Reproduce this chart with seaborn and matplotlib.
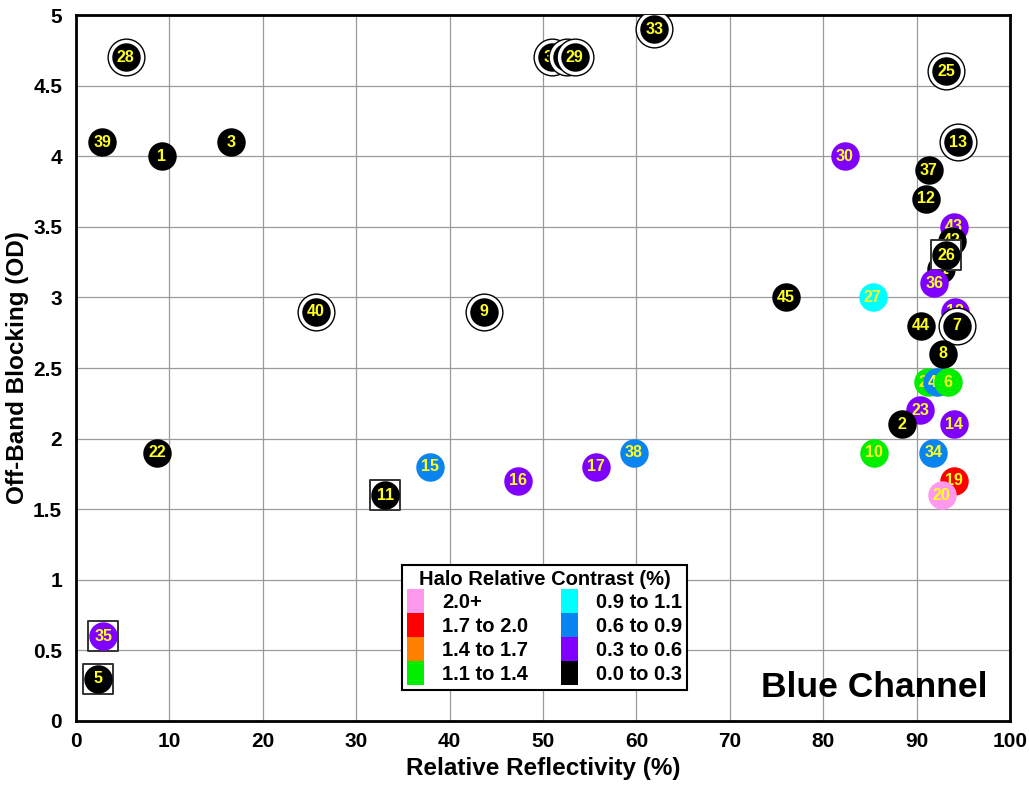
import matplotlib
matplotlib.use("Agg")
import matplotlib.pyplot as plt
from matplotlib.patches import Patch
from matplotlib.ticker import MultipleLocator
import seaborn as sns
import pandas as pd

# ---- data ----
categories = ["2.0+", "1.7 to 2.0", "1.4 to 1.7", "1.1 to 1.4",
              "0.9 to 1.1", "0.6 to 0.9", "0.3 to 0.6", "0.0 to 0.3"]
cat_colors = ["#FF99EE", "#FF0000", "#FF8000", "#00EE00",
              "#00FFFF", "#0A84F0", "#8000FF", "#000000"]

ids = [28, 39, 1, 3, 32, 31, 29, 33, 25, 13, 30, 37, 12, 43, 42, 21, 26, 36,
       27, 45, 18, 7, 44, 8, 24, 41, 6, 23, 2, 14, 10, 34, 19, 20, 38, 17, 16,
       15, 11, 40, 9, 22, 35, 5]
reflectivity = [5.3, 2.8, 9.2, 16.6, 51.0, 52.6, 53.4, 61.9, 93.2, 94.4, 82.3,
                91.3, 91.0, 94.0, 93.8, 92.6, 93.2, 91.9, 85.3, 76.0, 94.1,
                94.3, 90.5, 92.8, 91.2, 92.2, 93.4, 90.4, 88.4, 94.0, 85.4,
                91.8, 94.0, 92.7, 59.7, 55.7, 47.3, 37.9, 33.1, 25.7, 43.7,
                8.7, 2.9, 2.4]
blocking = [4.7, 4.1, 4.0, 4.1, 4.7, 4.7, 4.7, 4.9, 4.6, 4.1, 4.0, 3.9, 3.7,
            3.5, 3.4, 3.2, 3.3, 3.1, 3.0, 3.0, 2.9, 2.8, 2.8, 2.6, 2.4, 2.4,
            2.4, 2.2, 2.1, 2.1, 1.9, 1.9, 1.7, 1.6, 1.9, 1.8, 1.7, 1.8, 1.6,
            2.9, 2.9, 1.9, 0.6, 0.3]
contrast_cat = ["0.0 to 0.3", "0.0 to 0.3", "0.0 to 0.3", "0.0 to 0.3",
                "0.0 to 0.3", "0.0 to 0.3", "0.0 to 0.3", "0.0 to 0.3",
                "0.0 to 0.3", "0.0 to 0.3", "0.3 to 0.6", "0.0 to 0.3",
                "0.0 to 0.3", "0.3 to 0.6", "0.0 to 0.3", "0.0 to 0.3",
                "0.0 to 0.3", "0.3 to 0.6", "0.9 to 1.1", "0.0 to 0.3",
                "0.3 to 0.6", "0.0 to 0.3", "0.0 to 0.3", "0.0 to 0.3",
                "1.1 to 1.4", "0.6 to 0.9", "1.1 to 1.4", "0.3 to 0.6",
                "0.0 to 0.3", "0.3 to 0.6", "1.1 to 1.4", "0.6 to 0.9",
                "1.7 to 2.0", "2.0+", "0.6 to 0.9", "0.3 to 0.6",
                "0.3 to 0.6", "0.6 to 0.9", "0.0 to 0.3", "0.0 to 0.3",
                "0.0 to 0.3", "0.0 to 0.3", "0.3 to 0.6", "0.0 to 0.3"]
ringed = [28, 32, 31, 29, 33, 25, 13, 7, 40, 9]
boxed = [26, 11, 35, 5]

df = pd.DataFrame({"id": ids, "refl": reflectivity, "od": blocking,
                   "cat": contrast_cat})
palette = dict(zip(categories, cat_colors))

# ---- plot ----
sns.set_style("white")
plt.rcParams["font.family"] = ["Liberation Sans", "DejaVu Sans"]
plt.rcParams["font.weight"] = "bold"
plt.rcParams["text.color"] = "black"
plt.rcParams["axes.labelcolor"] = "black"
plt.rcParams["xtick.color"] = "black"
plt.rcParams["ytick.color"] = "black"

fig = plt.figure(figsize=(10.29, 7.86), dpi=100)
ax = fig.add_axes([0.0739, 0.0827, 0.9076, 0.8982])

for i, row in df.iterrows():
    z = 3 + i * 0.01
    sub = df.iloc[[i]]
    if row["id"] in ringed:
        sns.scatterplot(data=sub, x="refl", y="od", ax=ax, s=700, marker="o",
                        facecolor="white", edgecolor="black", linewidth=1.0,
                        legend=False, zorder=z)
    if row["id"] in boxed:
        sns.scatterplot(data=sub, x="refl", y="od", ax=ax, s=480, marker="s",
                        facecolor="white", edgecolor="#333333", linewidth=1.4,
                        legend=False, zorder=z)
    sns.scatterplot(data=sub, x="refl", y="od", hue="cat", palette=palette,
                    ax=ax, s=420, marker="o", linewidth=0, legend=False,
                    zorder=z + 0.001)
    ax.text(row["refl"], row["od"], str(row["id"]), ha="center", va="center",
            color="#FFFF20", fontsize=11.5, fontweight="bold",
            zorder=z + 0.002)

ax.set_xlim(0, 100)
ax.set_ylim(0, 5)
ax.xaxis.set_major_locator(MultipleLocator(10))
ax.xaxis.set_minor_locator(MultipleLocator(2))
ax.yaxis.set_major_locator(MultipleLocator(0.5))
ax.yaxis.set_minor_locator(MultipleLocator(0.1))
ax.yaxis.set_major_formatter(plt.FuncFormatter(lambda v, p: f"{v:g}"))
ax.grid(True, which="major", color="#9a9a9a", linewidth=0.9, zorder=0)
ax.set_axisbelow(True)
ax.tick_params(which="major", direction="in", length=10, width=1.2,
               labelsize=15, pad=8)
ax.tick_params(axis="y", which="major", pad=10)
ax.tick_params(which="minor", direction="in", length=5, width=1.0)
for lab in ax.get_xticklabels() + ax.get_yticklabels():
    lab.set_fontweight("bold")
for sp in ax.spines.values():
    sp.set_linewidth(2)
    sp.set_color("black")

ax.set_xlabel("Relative Reflectivity (%)", fontsize=17.5, fontweight="bold",
              labelpad=4)
ax.set_ylabel("Off-Band Blocking (OD)", fontsize=17.5, fontweight="bold",
              labelpad=3)

handles = [Patch(facecolor=c, edgecolor="none") for c in cat_colors]
leg = ax.legend(handles, categories, ncol=2, loc="lower left",
                bbox_to_anchor=(0.349, 0.044), borderaxespad=0,
                title="Halo Relative Contrast (%)",
                prop={"size": 14.5, "weight": "bold"},
                title_fontproperties={"size": 14.5, "weight": "bold"},
                handlelength=0.85, handleheight=1.45, labelspacing=0.0,
                handletextpad=0.9, columnspacing=1.6, borderpad=0.25,
                frameon=True, fancybox=False, framealpha=1)
leg.get_frame().set_edgecolor("black")
leg.get_frame().set_linewidth(1.5)
leg.set_zorder(10)

ax.text(0.976, 0.048, "Blue Channel", transform=ax.transAxes, ha="right",
        va="center", fontsize=25.5, fontweight="bold", zorder=10)

fig.savefig("out.png", dpi=100)
